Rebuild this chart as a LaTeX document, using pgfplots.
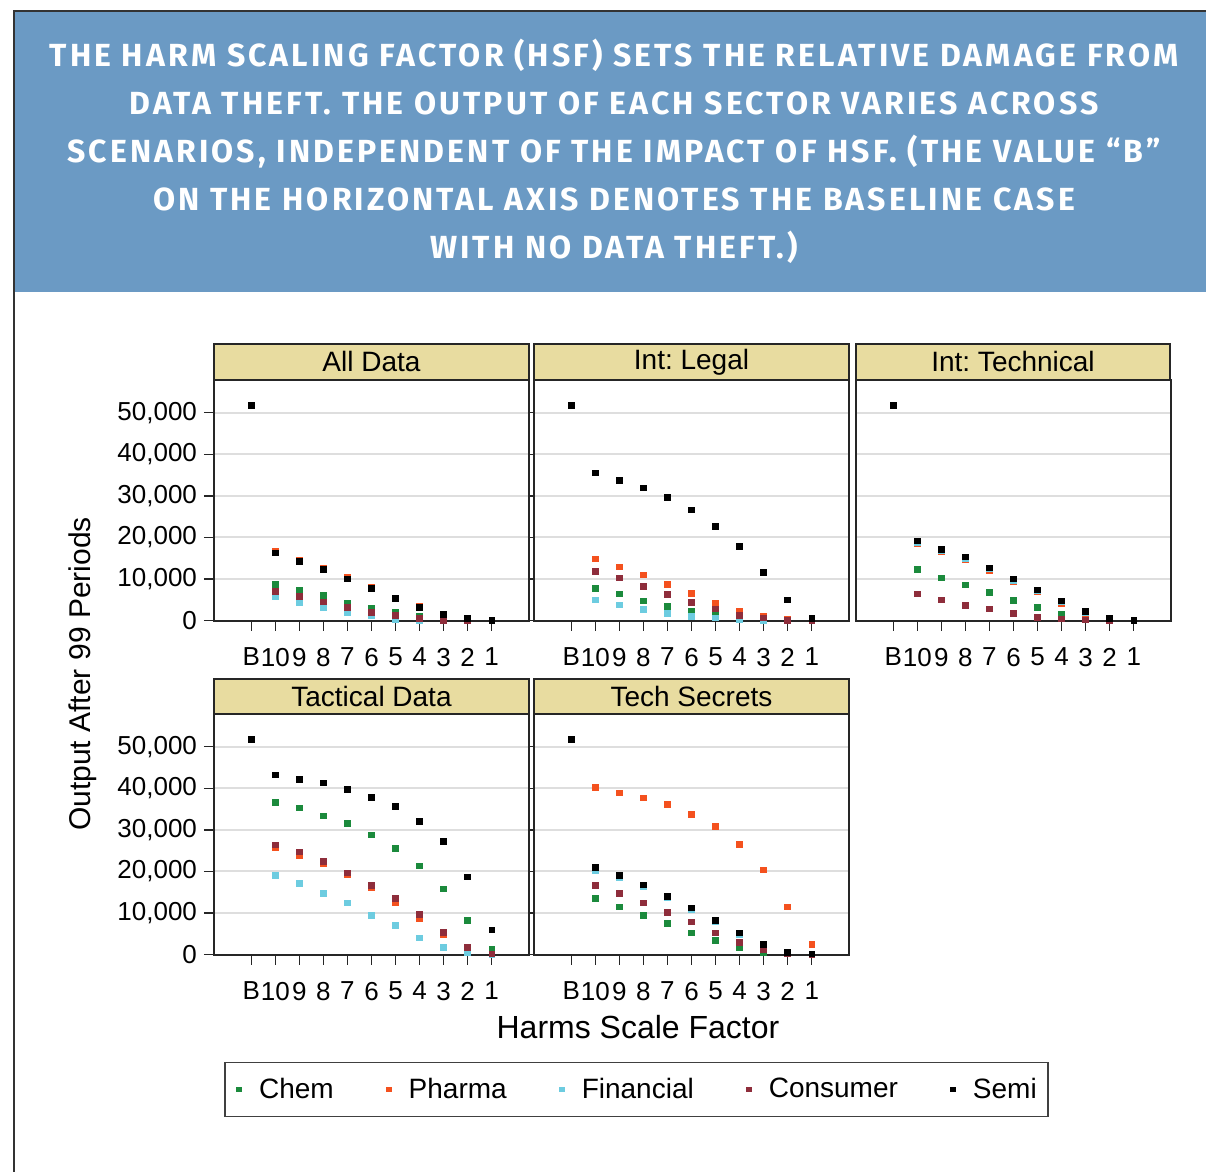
\documentclass[border=0pt]{standalone}
\usepackage{fontspec}
\setmainfont{Liberation Sans}
\newfontfamily\titlefont{Fira Sans}[LetterSpace=9.7]
\usepackage{pgfplots}
\usepackage{pgfplotstable}
\pgfplotsset{compat=1.18}
\frenchspacing
\definecolor{chemc}{HTML}{1B8A3C}
\definecolor{pharmac}{HTML}{F4511E}
\definecolor{finc}{HTML}{6DCCE0}
\definecolor{consc}{HTML}{8E2D3B}
\definecolor{semic}{HTML}{000000}
\definecolor{stripc}{HTML}{E8DCA0}
\definecolor{bannerc}{HTML}{6B9AC4}

\pgfplotstableread{
x chem pharma fin cons semi
0 nan nan nan nan 51800
1 8700 16600 5700 7000 16300
2 7200 14600 4400 5800 14300
3 6000 12600 3200 4500 12300
4 4300 10400 2000 3100 10000
5 3000 8100 1100 1900 7700
6 1900 5500 300 1200 5300
7 1100 3500 0 550 3100
8 300 1600 0 100 1500
9 0 600 0 0 550
10 0 100 0 0 0
}\tAll
\pgfplotstableread{
x chem pharma fin cons semi
0 nan nan nan nan 51800
1 7700 14800 5000 11900 35500
2 6400 12900 3800 10300 33700
3 4700 11000 2700 8250 31900
4 3400 8650 1700 6300 29600
5 2200 6500 1000 4400 26600
6 1300 4200 650 2800 22700
7 300 2200 200 1200 17800
8 0 1050 0 650 11600
9 0 300 0 100 5000
10 0 100 0 100 550
}\tLegal
\pgfplotstableread{
x chem pharma fin cons semi
0 nan nan nan nan 51800
1 12300 18500 18800 6400 19200
2 10300 16600 16900 5000 17200
3 8600 14600 14900 3700 15300
4 6800 12000 12400 2800 12700
5 4800 9400 9700 1750 10000
6 3100 6900 7100 800 7400
7 1500 4200 4500 400 4700
8 650 1700 2000 200 2200
9 100 400 450 0 550
10 0 50 50 0 100
}\tTech
\pgfplotstableread{
x chem pharma fin cons semi
0 nan nan nan nan 51800
1 36600 25800 19100 26400 43200
2 35300 23800 17100 24700 42200
3 33400 21900 14700 22400 41300
4 31500 19200 12400 19700 39700
5 28800 16100 9500 16700 37900
6 25600 12500 7000 13500 35700
7 21300 8700 4000 9600 32100
8 15800 4900 1700 5300 27200
9 8200 1400 400 1750 18700
10 1200 200 0 200 5900
}\tTact
\pgfplotstableread{
x chem pharma fin cons semi
0 nan nan nan nan 51800
1 13500 40300 20300 16700 21000
2 11500 38900 18500 14700 19000
3 9500 37700 16300 12400 16800
4 7500 36100 13700 10200 14000
5 5200 33700 10800 7900 11200
6 3400 30800 7900 5200 8200
7 1700 26500 4900 3000 5200
8 550 20400 2100 1100 2400
9 200 11500 300 300 500
10 0 2400 0 100 200
}\tSecr

\pgfplotsset{
  panel/.style={
    scale only axis, width=157.5pt, height=120.5pt,
    xmin=-1.55, xmax=11.55, ymin=-100, ymax=57900,
    xtick={0,...,10}, xticklabels={B,10,9,8,7,6,5,4,3,2,1},
    ytick={0,10000,20000,30000,40000,50000},
    ymajorgrids, grid style={draw=black!13, line width=1pt},
    axis line style={black!85, line width=0.9pt},
    tick align=outside, tick style={black!85, line width=0.6pt},
    major tick length=5pt,
    tick label style={font=\fontsize{13}{13}\selectfont},
    xticklabel style={yshift=-5pt},
    clip=false,
  },
  noylab/.style={yticklabels={}, ytick style={draw=none}},
  ylab/.style={yticklabels={0,{10,000},{20,000},{30,000},{40,000},{50,000}}},
  pt/.style={only marks, mark=square*, mark size=1.4pt, color=#1, mark options={draw=none, fill=#1},
    legend image code/.code={\path[draw=none,fill=none] (0pt,-1pt) rectangle (11.5pt,1pt);
      \draw[##1,only marks,mark size=1.1pt] plot coordinates {(3.5pt,0pt)};}},
}
\newcommand{\plotall}[1]{%
  \addplot[pt=chemc] table[x=x,y=chem]{#1};
  \addplot[pt=pharmac] table[x=x,y=pharma]{#1};
  \addplot[pt=finc] table[x=x,y=fin]{#1};
  \addplot[pt=consc] table[x=x,y=cons]{#1};
  \addplot[pt=semic] table[x=x,y=semi]{#1};
}

\begin{document}
\begin{tikzpicture}
\begin{scope}[x=0.5pt,y=0.5pt]
\path[use as bounding box] (0,0) rectangle (1206,1172);
\fill[bannerc] (15,880) rectangle (1206,1160);
\draw[black!80, line width=1.4pt] (14,0) -- (14,1161) -- (1206,1161);
\node[text=white, align=center, font=\titlefont\bfseries\fontsize{16}{24}\selectfont] at (614,1021)
 {THE HARM SCALING FACTOR (HSF) SETS THE RELATIVE DAMAGE FROM\\
  DATA THEFT. THE OUTPUT OF EACH SECTOR VARIES ACROSS\\
  SCENARIOS, INDEPENDENT OF THE IMPACT OF HSF. (THE VALUE “B”\\
  ON THE HORIZONTAL AXIS DENOTES THE BASELINE CASE\\
  WITH NO DATA THEFT.)};
\end{scope}

\begin{axis}[panel, ylab, at={(107pt,275.5pt)}, anchor=south west]
\plotall{\tAll}
\end{axis}
\begin{axis}[panel, noylab, at={(267pt,275.5pt)}, anchor=south west]
\plotall{\tLegal}
\end{axis}
\begin{axis}[panel, noylab, at={(428pt,275.5pt)}, anchor=south west]
\plotall{\tTech}
\end{axis}
\begin{axis}[panel, ylab, at={(107pt,108.5pt)}, anchor=south west,
  legend columns=5,
  legend style={at={(1.341,-0.558)}, anchor=center, draw=black!75, line width=0.75pt,
    font=\fontsize{14}{17}\selectfont, inner ysep=5.75pt, inner xsep=3.5pt,
    /tikz/every even column/.append style={column sep=22pt}},
  legend cell align=left]
\plotall{\tTact}
\legend{Chem,Pharma,Financial,Consumer,Semi}
\end{axis}
\begin{axis}[panel, noylab, at={(267pt,108.5pt)}, anchor=south west]
\plotall{\tSecr}
\end{axis}

\begin{scope}[x=0.5pt,y=0.5pt]
\foreach \xa/\xb/\ya/\yb/\lab in {214/529/792/828/All Data, 534/849/792/828/Int: Legal, 856/1170/792/828/Int: Technical, 214/529/458/493/Tactical Data, 534/849/458/493/Tech Secrets}{
  \draw[fill=stripc, draw=black!85, line width=0.9pt] (\xa,\ya) rectangle (\xb,\yb);
  \node[font=\fontsize{14}{14}\selectfont] at ({(\xa+\xb)/2},{(\ya+\yb)/2}) {\lab};
}
\node[rotate=90, font=\fontsize{15}{15}\selectfont] at (83,498) {Output After 99 Periods};
\node[font=\fontsize{16}{16}\selectfont] at (638,145) {Harms Scale Factor};
\end{scope}
\end{tikzpicture}
\end{document}
